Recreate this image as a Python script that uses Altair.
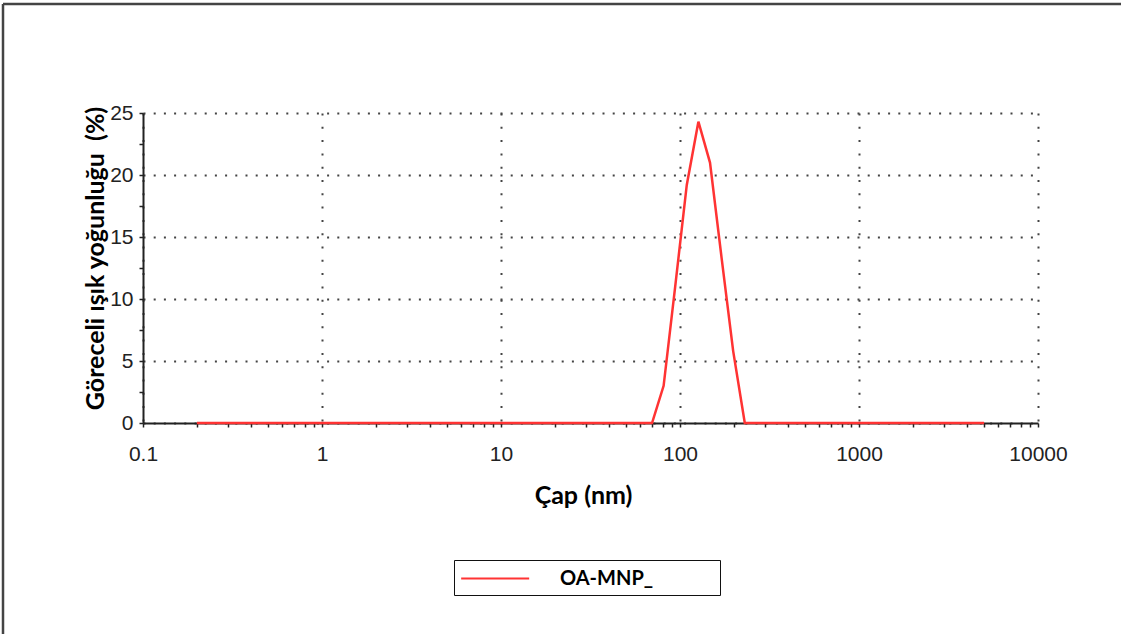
import altair as alt
import pandas as pd

# Data
sizes_nm = [0.2, 69.8, 81.0, 94.0, 109.1, 126.7, 147.1, 170.8, 198.2, 230.1, 5000]
intensity_pct = [0, 0, 3.0, 11.0, 19.2, 24.3, 21.0, 13.3, 5.8, 0, 0]
series_name = "OA-MNP_"

x_major = [0.1, 1, 10, 100, 1000, 10000]
x_ticks = [0.1, 0.2, 0.3, 0.4, 0.5, 0.6, 0.7, 0.8, 0.9,
           1, 2, 3, 4, 5, 6, 7, 8, 9,
           10, 20, 30, 40, 50, 60, 70, 80, 90,
           100, 200, 300, 400, 500, 600, 700, 800, 900,
           1000, 2000, 3000, 4000, 5000, 6000, 7000, 8000, 9000,
           10000]
y_ticks = [0, 2.5, 5, 7.5, 10, 12.5, 15, 17.5, 20, 22.5, 25]

x_title = "Çap (nm)"
y_title = "Göreceli ışık yoğunluğu\u00a0 (%)"

df = pd.DataFrame({"size": sizes_nm, "intensity": intensity_pct, "series": series_name})

W, H = 895, 310
PAD_L, PAD_T = 143, 113
PAGE_W, PAGE_H = 1121, 634

tick_font = "Liberation Sans, Arial, sans-serif"
title_font = "Lato, Open Sans, sans-serif"

x_major_test = "indexof(" + str(x_major) + ", datum.value) >= 0"
y_major_test = "datum.value % 5 == 0"

x_axis = alt.Axis(
    values=x_ticks,
    labelExpr=x_major_test + " ? format(datum.value, '~g') : ''",
    labelOverlap=False,
    labelFlush=False,
    labelFont=tick_font,
    labelFontSize=21,
    labelColor="#222222",
    labelPadding=16,
    tickSize=4,
    tickColor="#222222",
    tickWidth=1.5,
    domainColor="#222222",
    domainWidth=2,
    grid=True,
    gridColor="#444444",
    gridWidth=2,
    gridDash=[2, 11.3],
    gridOpacity={"condition": {"test": x_major_test, "value": 1}, "value": 0},
    title=x_title,
    titleFont=title_font,
    titleFontSize=25,
    titleFontWeight="bold",
    titleColor="#000000",
    titleX=440,
    titleY=72,
    titleBaseline="middle",
    titleAlign="center",
)

y_axis = alt.Axis(
    values=y_ticks,
    labelExpr=y_major_test + " ? format(datum.value, '~g') : ''",
    labelOverlap=False,
    labelFlush=False,
    labelFont=tick_font,
    labelFontSize=21,
    labelColor="#222222",
    labelPadding=6,
    tickSize=4,
    tickColor="#222222",
    tickWidth=1.5,
    domainColor="#222222",
    domainWidth=2,
    grid=True,
    gridColor="#444444",
    gridWidth=2,
    gridDash=[2, 8.2],
    gridOpacity={"condition": {"test": y_major_test, "value": 1}, "value": 0},
    title=y_title,
    titleFont=title_font,
    titleFontSize=25,
    titleFontWeight="bold",
    titleColor="#000000",
    titleAngle=270,
    titleX=-48,
    titleY=145,
    titleBaseline="middle",
    titleAlign="center",
)

legend = alt.Legend(
    title=None,
    orient="none",
    legendX=311,
    legendY=447,
    symbolType="M-1,0H5",
    symbolSize=514,
    symbolStrokeWidth=2,
    symbolFillColor="transparent",
    labelFont=title_font,
    labelFontSize=20,
    labelFontWeight="bold",
    labelColor="#000000",
    labelOffset=75,
    labelLimit=400,
    labelExpr="datum.label + '\u2800\u2800\u2800\u2800'",
    strokeColor="#111111",
    padding=6,
)

line = alt.Chart(df).mark_line(strokeWidth=2.5).encode(
    x=alt.X("size:Q", scale=alt.Scale(type="log", domain=[0.1, 10000], nice=False), axis=x_axis),
    y=alt.Y("intensity:Q", scale=alt.Scale(domain=[0, 25], nice=False), axis=y_axis),
    color=alt.Color("series:N", scale=alt.Scale(range=["#ff3333"]), legend=legend),
)

one_row = alt.Data(values=[{"k": 1}])
frame_top = alt.Chart(one_row).mark_rule(color="#444444", strokeWidth=2.5).encode(
    x=alt.value(-140), x2=alt.value(PAGE_W - PAD_L), y=alt.value(-109)
)
frame_left = alt.Chart(one_row).mark_rule(color="#444444", strokeWidth=2.5).encode(
    x=alt.value(-140), y=alt.value(-109), y2=alt.value(PAGE_H - PAD_T)
)

chart = alt.layer(line, frame_top, frame_left).properties(
    width=W,
    height=H,
    padding={"left": PAD_L, "top": PAD_T, "right": PAGE_W - PAD_L - W, "bottom": PAGE_H - PAD_T - H},
    autosize=alt.AutoSizeParams(type="none"),
    background="#ffffff",
).configure_view(stroke=None)

chart.save("out.html", embed_options={"renderer": "svg", "actions": False})
